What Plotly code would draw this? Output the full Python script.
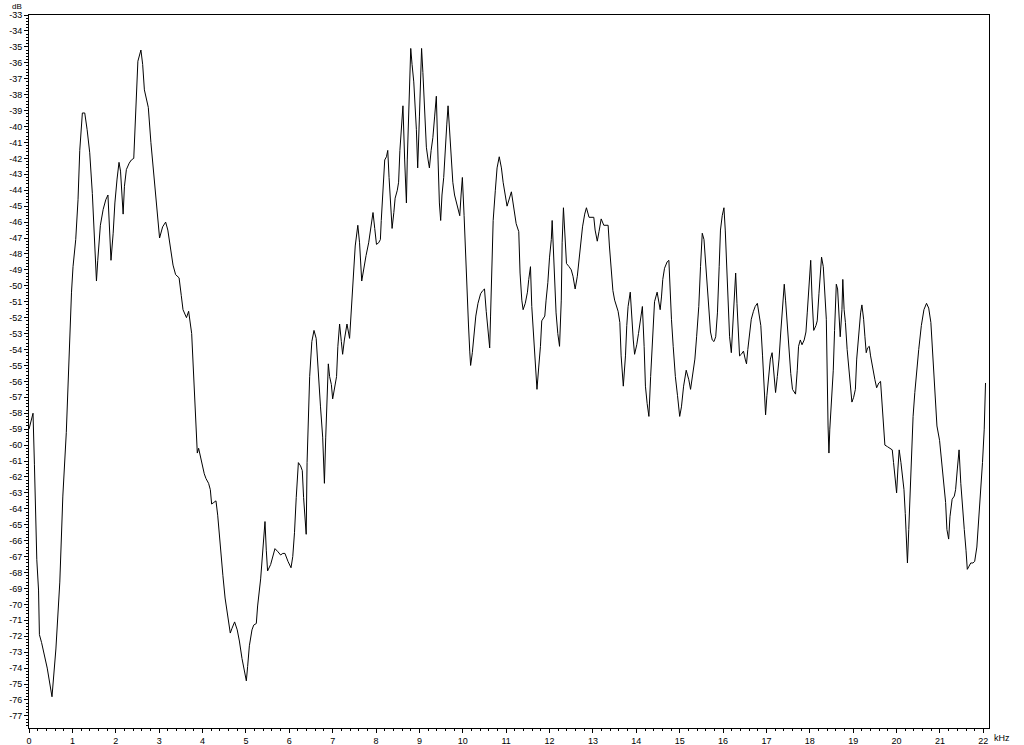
import plotly.graph_objects as go

# spectrum (kHz, dB)
freq_khz = [
    0.00, 0.03, 0.093, 0.125, 0.155, 0.18, 0.22, 0.23, 0.24, 0.29, 0.42, 0.53, 0.57, 0.62,
    0.71, 0.78, 0.86, 0.90, 0.92, 0.955, 0.98, 1.015, 1.077, 1.13, 1.17, 1.23, 1.285, 1.34,
    1.40, 1.46, 1.515, 1.555, 1.585, 1.615, 1.645, 1.71, 1.77, 1.82, 1.86, 1.89, 1.94, 1.98,
    2.03, 2.075, 2.11, 2.14, 2.17, 2.20, 2.245, 2.31, 2.36, 2.415, 2.44, 2.48,
    2.51, 2.58, 2.62, 2.66, 2.70, 2.75, 2.81, 2.88, 2.93, 3.01, 3.08, 3.15, 3.20, 3.26,
    3.32, 3.38, 3.46, 3.51, 3.55, 3.63, 3.68,
    3.75, 3.80, 3.83, 3.88, 3.91, 3.98, 4.04, 4.08, 4.14, 4.18, 4.21, 4.26, 4.31, 4.35,
    4.41, 4.47, 4.52, 4.58, 4.64, 4.68, 4.74, 4.80, 4.85, 4.91, 4.97, 5.01, 5.04, 5.08,
    5.14, 5.18, 5.24, 5.27, 5.34, 5.39, 5.44, 5.47, 5.50, 5.57, 5.62, 5.67, 5.74, 5.80,
    5.85, 5.90, 5.97, 6.04, 6.08, 6.12, 6.16, 6.21, 6.26, 6.30, 6.33, 6.37, 6.39, 6.41,
    6.44, 6.47, 6.52, 6.57, 6.62, 6.67, 6.72, 6.77, 6.81, 6.84, 6.87, 6.90, 6.93, 6.97,
    7.00, 7.04, 7.09, 7.12, 7.16, 7.20, 7.23, 7.27, 7.33,
    7.39, 7.43, 7.47, 7.52, 7.58, 7.62, 7.67, 7.72, 7.77, 7.83, 7.89, 7.93, 7.97, 8.01,
    8.06, 8.10, 8.12, 8.16, 8.20, 8.24, 8.27, 8.30, 8.33, 8.37, 8.41, 8.44, 8.49, 8.52,
    8.55, 8.58, 8.62, 8.66, 8.70, 8.72, 8.75, 8.78, 8.80, 8.83, 8.87, 8.93, 8.96, 9.00,
    9.03, 9.05, 9.08, 9.12, 9.16, 9.20, 9.23, 9.27, 9.31, 9.35, 9.39, 9.43, 9.46, 9.49,
    9.52, 9.56, 9.59, 9.63, 9.66, 9.69, 9.73, 9.77, 9.81, 9.85, 9.89, 9.93, 9.96, 9.99,
    10.03, 10.06, 10.09, 10.13, 10.16, 10.18, 10.22, 10.26, 10.30, 10.35, 10.41, 10.46,
    10.50, 10.54, 10.58, 10.62, 10.64, 10.67, 10.70, 10.75, 10.79, 10.84, 10.89, 10.93,
    10.98, 11.02,
    11.12, 11.16, 11.19, 11.23, 11.29, 11.32, 11.36, 11.39, 11.44, 11.49, 11.52, 11.56,
    11.59, 11.63, 11.67, 11.71, 11.75, 11.79, 11.82, 11.89, 11.92, 11.96, 12.00, 12.04,
    12.06, 12.09, 12.12, 12.15, 12.19, 12.23, 12.27, 12.29, 12.32, 12.35, 12.39, 12.45,
    12.50, 12.54, 12.59, 12.64, 12.68, 12.72, 12.76, 12.81, 12.85, 12.91, 12.96, 13.02,
    13.05, 13.10, 13.14, 13.19, 13.25, 13.29, 13.35, 13.38, 13.42, 13.46, 13.50, 13.54,
    13.58, 13.62, 13.65, 13.70, 13.75, 13.78, 13.81, 13.86, 13.89, 13.93, 13.96, 14.01,
    14.05, 14.10, 14.14, 14.18, 14.21, 14.25, 14.29, 14.33, 14.36, 14.39, 14.42, 14.48,
    14.51, 14.55, 14.58, 14.61, 14.65, 14.71, 14.75,
    14.77, 14.81, 14.85, 14.90, 14.95, 15.00, 15.04, 15.09, 15.15, 15.21, 15.25, 15.29,
    15.35, 15.39, 15.44, 15.48, 15.52, 15.56, 15.60, 15.64, 15.68, 15.71, 15.75, 15.79,
    15.83, 15.87, 15.91, 15.94, 15.98, 16.02, 16.05, 16.08, 16.11, 16.15, 16.19, 16.22,
    16.25, 16.29, 16.32, 16.35, 16.38, 16.42, 16.47, 16.51, 16.54, 16.57, 16.61, 16.65,
    16.70, 16.74, 16.79, 16.83, 16.87, 16.91, 16.94, 16.98, 17.01, 17.05, 17.09, 17.13,
    17.17, 17.21, 17.25, 17.29, 17.33, 17.37, 17.41, 17.44, 17.48, 17.52, 17.56, 17.60,
    17.64, 17.67, 17.71, 17.74, 17.78, 17.82, 17.87, 17.91, 17.94, 17.98, 18.02, 18.05,
    18.09, 18.14, 18.17, 18.21, 18.24, 18.27, 18.31, 18.34, 18.38, 18.42, 18.44,
    18.46, 18.50, 18.54, 18.57, 18.61, 18.64, 18.67, 18.70, 18.74, 18.76, 18.79, 18.82,
    18.86, 18.90, 18.94, 18.97, 19.01, 19.05, 19.08, 19.13, 19.17, 19.20, 19.24, 19.27,
    19.30, 19.33, 19.37, 19.40, 19.45, 19.50, 19.54, 19.59, 19.63, 19.67, 19.70, 19.73,
    19.79, 19.85, 19.90, 19.93, 19.96, 20.00, 20.03, 20.06, 20.10, 20.13, 20.17, 20.20,
    20.23, 20.25, 20.28, 20.31, 20.34, 20.38, 20.42, 20.46, 20.51, 20.57, 20.63, 20.69,
    20.74, 20.79, 20.83, 20.88, 20.93, 20.99, 21.03, 21.08, 21.13, 21.16, 21.20, 21.23,
    21.28, 21.33, 21.36, 21.40, 21.44, 21.48, 21.52, 21.56, 21.60, 21.63, 21.67, 21.71,
    21.76, 21.80, 21.85, 21.89, 21.94, 21.98, 22.02, 22.05,
]

level_db = [
    -59.0, -58.7, -58.0, -61.2, -65.3, -67.2, -69.1, -70.7, -71.9, -72.4, -74.0, -75.8, -74.6, -72.8,
    -68.6, -63.2, -59.2, -56.1, -54.0, -51.7, -50.4, -48.8, -47.1, -44.6, -41.5, -39.15, -39.15, -40.2,
    -41.65, -44.2, -47.3, -49.7, -48.4, -47.1, -46.2, -45.2, -44.6, -44.3, -46.3, -48.4, -46.7, -44.8,
    -43.3, -42.25, -42.8, -44.2, -45.5, -43.75, -42.7, -42.3, -42.1, -42.0, -40.4, -38.3,
    -35.9, -35.2, -36.1, -37.7, -38.3, -38.8, -41.0, -43.1, -44.7, -47.0, -46.3, -46.0, -46.5, -47.6,
    -48.7, -49.3, -49.5, -50.6, -51.5, -52.0, -51.6,
    -53.0, -55.7, -57.9, -60.5, -60.2, -61.1, -61.8, -62.1, -62.4, -62.8, -63.7, -63.6, -63.5, -64.4,
    -66.6, -68.2, -69.6, -70.7, -71.8, -71.5, -71.1, -71.6, -72.3, -73.4, -74.4, -74.8, -73.9, -72.6,
    -71.6, -71.3, -71.2, -70.1, -68.4, -66.3, -64.8, -66.6, -67.9, -67.5, -67.0, -66.5, -66.7, -66.9,
    -66.8, -66.8, -67.3, -67.7, -67.0, -65.5, -63.3, -61.1, -61.3, -61.6, -63.3, -65.1, -65.6, -61.1,
    -57.9, -55.7, -53.5, -52.8, -53.3, -55.7, -57.6, -59.5, -62.4, -59.5, -57.1, -54.9, -55.7, -56.2,
    -57.1, -56.5, -55.7, -53.8, -52.4, -53.5, -54.3, -53.4, -52.4,
    -53.3, -51.6, -49.7, -47.5, -46.2, -47.3, -49.7, -48.8, -48.1, -47.3, -46.2, -45.4, -46.4, -47.4,
    -47.3, -47.1, -45.9, -44.0, -42.1, -41.9, -41.5, -43.2, -44.5, -46.4, -45.4, -44.5, -44.0, -43.5,
    -41.5, -40.2, -38.7, -42.1, -44.8, -42.1, -38.8, -35.8, -35.1, -36.1, -37.2, -40.2, -42.6, -39.4,
    -36.6, -35.1, -36.6, -38.8, -41.3, -42.1, -42.6, -41.5, -40.7, -39.4, -38.1, -42.1, -44.8, -45.9,
    -44.3, -43.2, -41.5, -39.9, -38.7, -40.2, -42.1, -43.5, -44.3, -44.8, -45.2, -45.6, -44.3, -43.2,
    -45.6, -47.8, -50.3, -52.4, -54.1, -55.0, -54.2, -53.0, -51.9, -51.1, -50.5, -50.3,
    -50.2, -51.6, -53.0, -53.9, -51.9, -48.9, -45.9, -44.0, -42.6, -41.9, -42.6, -43.5,
    -44.3, -45.0,
    -44.1, -44.8, -45.4, -46.1, -46.6, -49.2, -50.9, -51.5, -51.1, -50.4, -49.6, -48.8,
    -51.3, -53.0, -54.8, -56.5, -55.1, -53.8, -52.2, -51.9, -50.9, -49.8, -48.2, -47.1,
    -45.9, -47.7, -49.8, -51.7, -53.0, -53.8, -50.9, -47.3, -45.1, -46.7, -48.6, -48.8,
    -49.0, -49.4, -50.2, -49.4, -48.4, -47.3, -46.3, -45.5, -45.1, -45.7, -45.7, -45.7,
    -46.5, -47.2, -46.6, -45.8, -46.2, -46.2, -46.2, -47.5, -49.2, -50.3, -50.9, -51.3,
    -51.6, -52.3, -54.4, -56.3, -54.4, -52.5, -51.3, -50.4, -52.1, -53.4, -54.3, -53.7,
    -53.0, -52.1, -51.3, -53.8, -56.3, -57.4, -58.2, -55.7, -53.8, -51.9, -51.0, -50.4,
    -50.9, -51.5, -50.7, -49.6, -48.9, -48.5, -48.4,
    -50.0, -52.1, -53.8, -55.7, -56.9, -58.2, -57.6, -56.3, -55.3, -55.9, -56.5, -55.7,
    -54.6, -53.2, -51.3, -48.8, -46.7, -47.1, -48.6, -50.2, -52.1, -52.9, -53.4, -53.5,
    -53.2, -51.7, -48.8, -46.5, -45.6, -45.1, -46.5, -48.8, -51.3, -53.2, -54.2, -52.5,
    -51.3, -49.2, -51.1, -52.8, -54.4, -54.3, -54.1, -54.6, -54.9, -54.0, -52.8, -52.1,
    -51.6, -51.3, -51.1, -51.7, -52.5, -54.4, -56.5, -58.1, -56.9, -55.5, -54.6, -54.2,
    -55.5, -56.7, -55.7, -54.6, -52.9, -51.3, -49.9, -50.9, -52.5, -54.2, -55.5, -56.5,
    -56.7, -56.8, -55.3, -53.8, -53.4, -53.7, -53.4, -52.9, -51.7, -50.0, -48.4, -50.7,
    -52.8, -52.5, -52.2, -50.5, -49.0, -48.2, -48.8, -50.0, -52.1, -58.8, -60.5,
    -59.0, -56.9, -55.3, -52.8, -49.9, -50.2, -51.7, -53.2, -51.5, -49.6, -51.5, -52.3,
    -54.0, -55.3, -56.3, -57.3, -57.0, -56.5, -54.6, -52.8, -51.7, -51.2, -52.1, -53.2,
    -54.2, -53.9, -53.8, -54.4, -55.3, -55.9, -56.4, -56.1, -56.0, -57.4, -59.0, -60.0,
    -60.1, -60.2, -60.3, -61.1, -62.0, -63.0, -61.5, -60.3, -61.1, -62.0, -62.8, -64.3,
    -65.9, -67.4, -65.3, -62.8, -60.1, -58.2, -56.7, -55.3, -54.0, -52.5, -51.5, -51.1,
    -51.4, -52.3, -54.0, -56.3, -58.8, -59.7, -60.7, -62.0, -63.6, -65.3, -65.9, -64.5,
    -63.4, -63.2, -62.8, -61.5, -60.3, -62.4, -64.1, -65.3, -66.6, -67.8, -67.6, -67.4,
    -67.4, -67.3, -66.4, -64.9, -63.0, -61.1, -59.0, -56.1,
]

x_ticks = list(range(0, 23))
y_ticks = list(range(-77, -32))
y_tick_labels = [str(v) for v in y_ticks]

FONT = dict(family="Liberation Sans, Arial, sans-serif", size=9, color="#000000")

fig = go.Figure()
fig.add_trace(go.Scatter(
    x=freq_khz, y=level_db, mode="lines",
    line=dict(color="#000000", width=1), hoverinfo="skip",
))

fig.update_layout(
    width=1024, height=745,
    margin=dict(l=29, r=35, t=15, b=17),
    paper_bgcolor="white", plot_bgcolor="white",
    showlegend=False, font=FONT,
)
fig.update_xaxes(
    range=[0, 22.13], tickmode="array", tickvals=x_ticks, automargin=False,
    ticks="outside", ticklen=4, tickwidth=1, tickcolor="black",
    minor=dict(dtick=0.2, ticks="outside", ticklen=2, tickcolor="black", showgrid=False),
    showline=True, linecolor="black", linewidth=1, mirror=True,
    showgrid=False, zeroline=False, tickfont=FONT,
)
fig.update_yaxes(
    range=[-77.76, -33], tickmode="array", tickvals=y_ticks, ticktext=y_tick_labels,
    automargin=False,
    ticks="outside", ticklen=4, tickwidth=1, tickcolor="black",
    minor=dict(dtick=0.2, ticks="outside", ticklen=2, tickcolor="black", showgrid=False),
    showline=True, linecolor="black", linewidth=1, mirror=True,
    showgrid=False, zeroline=False, tickfont=FONT,
)

fig.add_annotation(text="dB", xref="paper", yref="paper", x=0, y=1,
                   xanchor="right", yanchor="bottom", xshift=-5, yshift=2,
                   showarrow=False, font=dict(FONT, size=8))
fig.add_annotation(text="kHz", xref="paper", yref="paper", x=1, y=0,
                   xanchor="left", yanchor="top", xshift=3, yshift=-3,
                   showarrow=False, font=FONT)

# drop the browser's default page margin so the figure sits at the top-left corner
fig.write_html(
    "out.html",
    config={"displayModeBar": False},
    post_script="document.body.style.margin='0';document.body.style.overflow='hidden';",
)
